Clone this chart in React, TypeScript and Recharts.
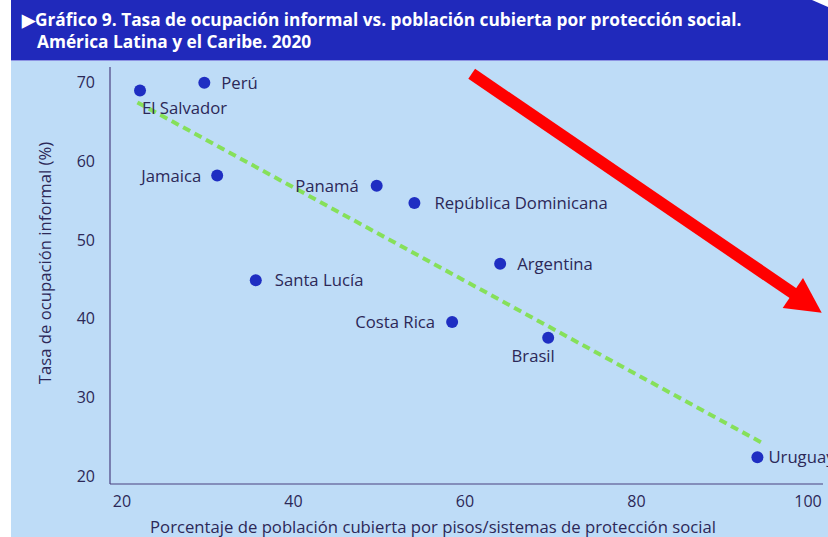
import { ScatterChart, Scatter, XAxis, YAxis, ReferenceLine } from "recharts"

const countries = [
  "El Salvador",
  "Perú",
  "Jamaica",
  "Panamá",
  "República Dominicana",
  "Argentina",
  "Santa Lucía",
  "Costa Rica",
  "Brasil",
  "Uruguay",
]
// % población cubierta por protección social
const coverage = [22.1, 29.6, 31.1, 49.7, 54.1, 64.1, 35.6, 58.5, 69.7, 94.1]
// tasa de ocupación informal (%)
const informal = [69.0, 70.0, 58.2, 56.9, 54.7, 47.0, 44.9, 39.6, 37.6, 22.4]

const xTicks = [20, 40, 60, 80, 100]
const yTicks = [20, 30, 40, 50, 60, 70]

// línea de tendencia
const trendX = [21.8, 94.7]
const trendY = [67.5, 24.2]

const points = countries.map((name, i) => ({ name, x: coverage[i], y: informal[i] }))

// dónde va cada etiqueta respecto al punto
const labelPlace: Record<string, { dx: number; dy: number; anchor: "start" | "middle" | "end" }> = {
  "El Salvador": { dx: 2, dy: 23, anchor: "start" },
  "Perú": { dx: 17, dy: 6, anchor: "start" },
  "Jamaica": { dx: -16, dy: 6, anchor: "end" },
  "Panamá": { dx: -18, dy: 6, anchor: "end" },
  "República Dominicana": { dx: 20, dy: 6, anchor: "start" },
  "Argentina": { dx: 17, dy: 6, anchor: "start" },
  "Santa Lucía": { dx: 19, dy: 6, anchor: "start" },
  "Costa Rica": { dx: -17, dy: 6, anchor: "end" },
  "Brasil": { dx: -15, dy: 24, anchor: "middle" },
  "Uruguay": { dx: 11, dy: 6, anchor: "start" },
}

const FONT = "'Open Sans', sans-serif"
const INK = "#2c2857"
const HEADER = "#2029bb"
const PANEL = "#bedcf7"

function CountryDot(props: any) {
  const { cx, cy, payload } = props
  const p = labelPlace[payload.name]
  return (
    <g>
      <circle cx={cx} cy={cy} r={6} fill="#1f2ec2" />
      <text x={cx + p.dx} y={cy + p.dy} textAnchor={p.anchor} fontSize={16.7} fill={INK} fontFamily={FONT}>
        {payload.name}
      </text>
    </g>
  )
}

export default function App() {
  return (
    <div style={{ position: "absolute", left: 0, top: 0, width: 828, height: 537, background: "#fff", overflow: "hidden", fontFamily: FONT }}>
      <div style={{ position: "absolute", left: 11, top: 0, width: 817, height: 60, background: HEADER, borderBottom: "1px solid #8d93e3" }} />
      <div style={{ position: "absolute", left: 11, top: 61, width: 817, height: 476, background: PANEL }} />

      <div style={{ position: "absolute", left: 0, top: 61 }}>
        <ScatterChart width={828} height={476} margin={{ top: 6, right: 5, bottom: 0, left: 0 }}>
          <XAxis
            type="number"
            dataKey="x"
            domain={[18.6, 101.75]}
            ticks={xTicks}
            height={53}
            tickLine={false}
            tickMargin={6}
            axisLine={{ stroke: "#4a4080", strokeWidth: 1.2 }}
            tick={{ fill: INK, fontSize: 16, fontFamily: FONT }}
          />
          <YAxis
            type="number"
            dataKey="y"
            domain={[19, 72]}
            ticks={yTicks}
            width={110}
            tickLine={false}
            tickMargin={9}
            axisLine={{ stroke: "#4a4080", strokeWidth: 1.2 }}
            tick={{ fill: INK, fontSize: 16, fontFamily: FONT }}
          />
          <ReferenceLine
            segment={[
              { x: trendX[0], y: trendY[0] },
              { x: trendX[1], y: trendY[1] },
            ]}
            stroke="#86e05a"
            strokeWidth={4}
            strokeDasharray="8 5"
          />
          <Scatter data={points} shape={<CountryDot />} isAnimationActive={false} />
        </ScatterChart>
      </div>

      <svg width={828} height={537} style={{ position: "absolute", left: 0, top: 0, pointerEvents: "none" }}>
        <polygon points="812,0 828,0 828,7" fill="#fff" />
        <text x={22} y={26} fill="#fff" fontSize={17.3} fontWeight={700} fontFamily={FONT}>
          ▶Gráfico 9. Tasa de ocupación informal vs. población cubierta por protección social.
        </text>
        <text x={37} y={48} fill="#fff" fontSize={17.3} fontWeight={700} fontFamily={FONT}>
          América Latina y el Caribe. 2020
        </text>
        <text
          x={44}
          y={263}
          transform="rotate(-90 44 263)"
          textAnchor="middle"
          dominantBaseline="central"
          fill={INK}
          fontSize={16.7}
          fontFamily={FONT}
        >
          Tasa de ocupación informal (%)
        </text>
        <text x={433} y={533} textAnchor="middle" fill={INK} fontSize={16.7} fontFamily={FONT}>
          Porcentaje de población cubierta por pisos/sistemas de protección social
        </text>
        {/* flecha roja */}
        <line x1={471.7} y1={73.8} x2={797} y2={295.9} stroke="#ff0000" strokeWidth={12} />
        <polygon points="821.7,312.7 803,278.1 782.7,307.9" fill="#ff0000" />
      </svg>
    </div>
  )
}
